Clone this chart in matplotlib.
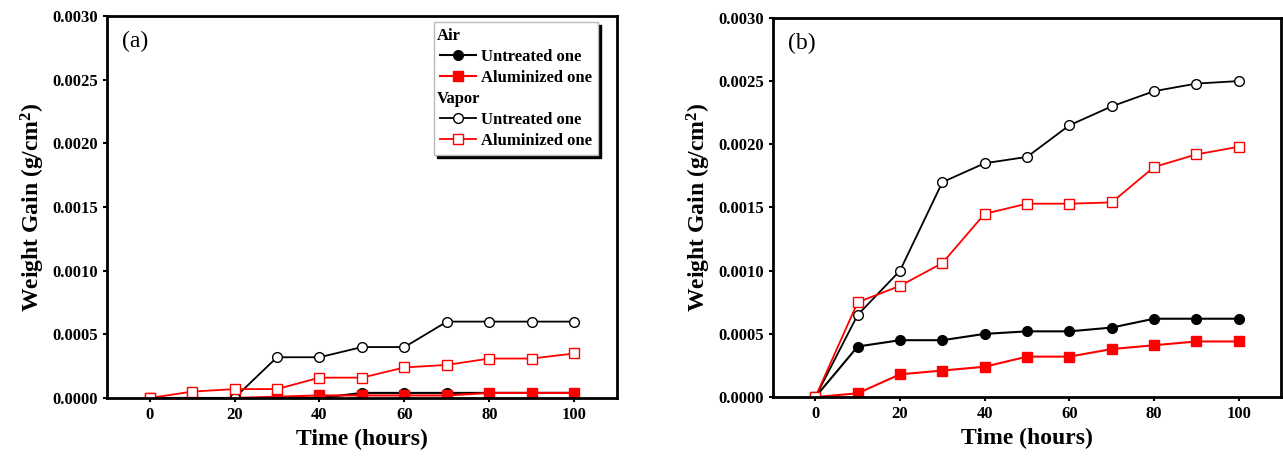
import numpy as np
import matplotlib.pyplot as plt
from matplotlib.lines import Line2D

plt.rcParams['font.family'] = ['Liberation Serif', 'DejaVu Serif']
plt.rcParams['mathtext.fontset'] = 'custom'
plt.rcParams['mathtext.bf'] = 'Liberation Serif:bold'
plt.rcParams['mathtext.rm'] = 'Liberation Serif:bold'

hours = [0, 10, 20, 30, 40, 50, 60, 70, 80, 90, 100]

# panel (a)
a_air_untreated = [0, 0, 0, 0, 0, 0.00004, 0.00004, 0.00004, 0.00004, 0.00004, 0.00004]
a_air_alum = [0, 0, 0, 0.00001, 0.00002, 0.00002, 0.00002, 0.00002, 0.00004, 0.00004, 0.00004]
a_vap_untreated = [0, 0, 0, 0.00032, 0.00032, 0.0004, 0.0004, 0.0006, 0.0006, 0.0006, 0.0006]
a_vap_alum = [0, 0.00005, 0.00007, 0.00007, 0.00016, 0.00016, 0.00024, 0.00026, 0.00031, 0.00031, 0.00035]

# panel (b)
b_air_untreated = [0, 0.0004, 0.00045, 0.00045, 0.0005, 0.00052, 0.00052, 0.00055, 0.00062, 0.00062, 0.00062]
b_air_alum = [0, 0.00003, 0.00018, 0.00021, 0.00024, 0.00032, 0.00032, 0.00038, 0.00041, 0.00044, 0.00044]
b_vap_untreated = [0, 0.00065, 0.001, 0.0017, 0.00185, 0.0019, 0.00215, 0.0023, 0.00242, 0.00248, 0.0025]
b_vap_alum = [0, 0.00075, 0.00088, 0.00106, 0.00145, 0.00153, 0.00153, 0.00154, 0.00182, 0.00192, 0.00198]

yticks = [0, 0.0005, 0.001, 0.0015, 0.002, 0.0025, 0.003]
xticks = [0, 20, 40, 60, 80, 100]


def draw(ax, air_u, air_a, vap_u, vap_a, tag):
    ms = 7
    l1, = ax.plot(hours, air_u, '-o', color='black', mfc='black', mec='black', ms=ms, lw=1.5)
    l2, = ax.plot(hours, air_a, '-s', color='red', mfc='red', mec='red', ms=ms, lw=1.5)
    l3, = ax.plot(hours, vap_u, '-o', color='black', mfc='white', mec='black', ms=ms, lw=1.3)
    l4, = ax.plot(hours, vap_a, '-s', color='red', mfc='white', mec='red', ms=ms, lw=1.3)
    ax.set_xlim(-10, 110)
    ax.set_ylim(0, 0.003)
    ax.set_xticks(xticks)
    ax.set_yticks(yticks)
    ax.set_yticklabels(['%.4f' % v for v in yticks])
    for lab in ax.get_xticklabels() + ax.get_yticklabels():
        lab.set_fontweight('bold')
    ax.tick_params(labelsize=12, length=3, width=1.5, direction='out')
    for s in ax.spines.values():
        s.set_linewidth(2)
    ax.set_xlabel('Time (hours)', fontsize=17, fontweight='bold')
    ax.set_ylabel(r'Weight Gain (g/cm$\mathbf{^2}$)', fontsize=17, fontweight='bold')
    ax.text(0.03, 0.96, tag, transform=ax.transAxes, fontsize=17, va='top')
    return l1, l2, l3, l4


fig = plt.figure(figsize=(12.83, 4.58), dpi=100)
ax1 = fig.add_axes([0.0834, 0.131, 0.3975, 0.834])
ax2 = fig.add_axes([0.6025, 0.133, 0.396, 0.828])

l1, l2, l3, l4 = draw(ax1, a_air_untreated, a_air_alum, a_vap_untreated, a_vap_alum, '(a)')
draw(ax2, b_air_untreated, b_air_alum, b_vap_untreated, b_vap_alum, '(b)')

blank = Line2D([], [], linestyle='none', marker='none')
leg = ax1.legend([blank, l1, l2, blank, l3, l4],
                 ['Air', 'Untreated one', 'Aluminized one', 'Vapor', 'Untreated one', 'Aluminized one'],
                 loc='upper right', bbox_to_anchor=(0.963, 0.984), prop={'weight': 'bold', 'size': 12},
                 fancybox=False, handlelength=2.2, handletextpad=0.3, borderpad=0.35,
                 labelspacing=0.3, borderaxespad=0, shadow={'color': 'black', 'alpha': 1})
leg.get_frame().set_edgecolor('#bbbbbb')
leg.get_frame().set_linewidth(1)
for t in (leg.get_texts()[0], leg.get_texts()[3]):
    t.set_x(-44)

fig.savefig('out.png', dpi=100)
